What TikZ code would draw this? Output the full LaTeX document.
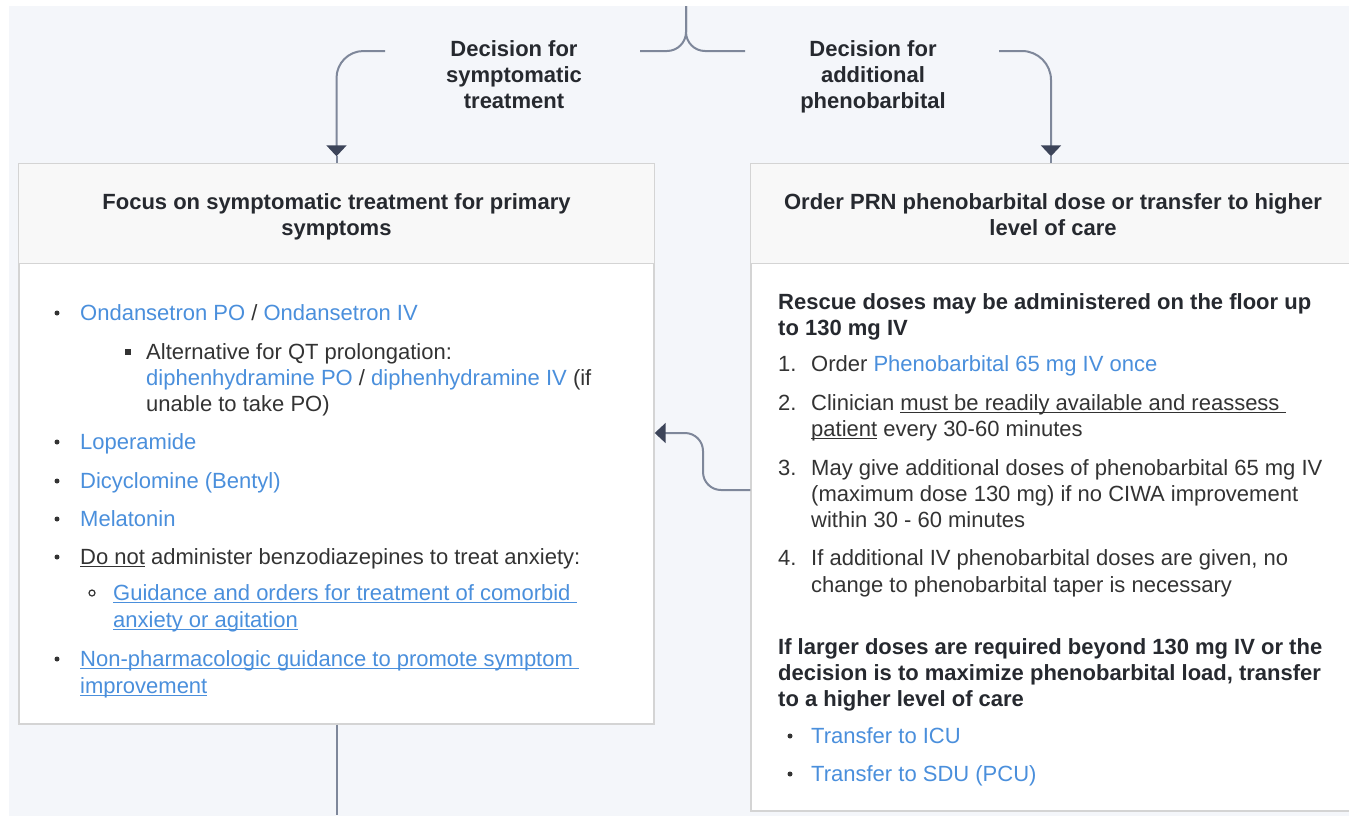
\documentclass[tikz,border=0pt]{standalone}
\usepackage{fontspec}
\setmainfont{Liberation Sans}
\usetikzlibrary{arrows.meta}
\definecolor{lnk}{HTML}{4A8FDC}
\definecolor{txtc}{HTML}{333333}
\definecolor{hdrc}{HTML}{26292F}
\definecolor{connc}{HTML}{7E879A}
\definecolor{arrc}{HTML}{3C4459}
\definecolor{bgc}{HTML}{F4F6FA}
\definecolor{brdc}{HTML}{D4D4D4}
\definecolor{hfillc}{HTML}{F8F8F8}
\newcommand{\ulx}[1]{\setbox0\hbox{#1}\rlap{\rule[-2.6pt]{\wd0}{1.1pt}}\box0\relax}
\newcommand{\lk}[1]{\textcolor{lnk}{#1}}
\tikzset{
  txt/.style={anchor=base west, inner sep=0pt, text=txtc, font=\fontsize{22}{26}\selectfont},
  btxt/.style={txt, text=hdrc, font=\fontsize{22}{26}\selectfont\bfseries},
  ctxt/.style={btxt, anchor=base},
  conn/.style={draw=connc, line width=2pt},
  tip/.style={-{Triangle[length=11pt,width=20pt,color=arrc]}},
  boxbody/.style={draw=brdc, line width=1.4pt, fill=white, inner sep=0pt},
  dotb/.style={fill=txtc}
}
\begin{document}
\begin{tikzpicture}[x=1pt,y=-1pt]
\useasboundingbox (0,0) rectangle (1349,815);
\fill[bgc] (9,6) rectangle (1360,830);

% boxes
\node[boxbody, minimum width=635pt, minimum height=560pt] (lbox) at (336.5,444) {};
\fill[hfillc] (lbox.north west) rectangle ([yshift=-100pt]lbox.north east);
\draw[brdc, line width=1.4pt] (lbox.north west) rectangle (lbox.south east);
\draw[brdc, line width=1.4pt] ([yshift=-100pt]lbox.north west) -- ([yshift=-100pt]lbox.north east);

\node[boxbody, minimum width=600pt, minimum height=647pt] (rbox) at (1051,487.5) {};
\fill[hfillc] (rbox.north west) rectangle ([yshift=-100pt]rbox.north east);
\draw[brdc, line width=1.4pt] (rbox.north west) rectangle (rbox.south east);
\draw[brdc, line width=1.4pt] ([yshift=-100pt]rbox.north west) -- ([yshift=-100pt]rbox.north east);

% connectors
\coordinate (topin) at (686,6);
\coordinate (bl) at (640,51);
\coordinate (br) at (745,51);
\coordinate (la) at (385,51);
\coordinate (ra) at (999,51);
\coordinate (lbot) at (336.5,815);
\draw[conn, rounded corners=19pt] (bl) -- (topin |- bl) -- (topin);
\draw[conn, rounded corners=19pt] (br) -- (topin |- br) -- (topin);
\draw[conn, tip, rounded corners=27pt] (la) -- (lbox.north |- la) -- ([yshift=7pt]lbox.north);
\draw[conn] ([yshift=7pt]lbox.north) -- (lbox.north);
\draw[conn, tip, rounded corners=29pt] (ra) -- (rbox.north |- ra) -- ([yshift=7pt]rbox.north);
\draw[conn] ([yshift=7pt]rbox.north) -- (rbox.north);
\draw[conn, tip, rounded corners=18pt] (rbox.west |- 0,490) -- (703,490) -- (703,433) -- (lbox.east |- 0,433);
\draw[conn] (lbox.south) -- (lbot);

% decision labels
\node[ctxt] (d1a) at (514,56) {Decision for};
\node[ctxt] (d1b) at (514,82) {symptomatic};
\node[ctxt] (d1c) at (514,108) {treatment};
\node[ctxt] (d2a) at (873,56) {Decision for};
\node[ctxt] (d2b) at (873,82) {additional};
\node[ctxt] (d2c) at (873,108) {phenobarbital};

% headers
\node[ctxt] (lh1) at (336.5,209) {Focus on symptomatic treatment for primary};
\node[ctxt] (lh2) at (336.5,235) {symptoms};
\node[ctxt] (rh1) at (1053,209) {Order PRN phenobarbital dose or transfer to higher};
\node[ctxt] (rh2) at (1053,235) {level of care};

% left body
\foreach \yy in {313,442,481,519,557,659} \fill[dotb] (57,\yy) circle (2.5pt);
\fill[dotb] (125,349) rectangle (131,355);
\draw[txtc, line width=1.2pt] (92,593) circle (3pt);
\node[txt] (l1) at (80,320) {\lk{Ondansetron PO} / \lk{Ondansetron IV}};
\node[txt] (l2) at (146,359) {Alternative for QT prolongation:};
\node[txt] (l3) at (146,385) {\lk{diphenhydramine PO} / \lk{diphenhydramine IV} (if};
\node[txt] (l4) at (146,411) {unable to take PO)};
\node[txt] (l5) at (80,449) {\lk{Loperamide}};
\node[txt] (l6) at (80,488) {\lk{Dicyclomine (Bentyl)}};
\node[txt] (l7) at (80,526) {\lk{Melatonin}};
\node[txt] (l8) at (80,564) {\ulx{Do not} administer benzodiazepines to treat anxiety:};
\node[txt, text=lnk] (l9) at (113,600) {\ulx{Guidance and orders for treatment of comorbid\ }};
\node[txt, text=lnk] (l10) at (113,627) {\ulx{anxiety or agitation}};
\node[txt, text=lnk] (l11) at (80,666) {\ulx{Non-pharmacologic guidance to promote symptom\ }};
\node[txt, text=lnk] (l12) at (80,693) {\ulx{improvement}};

% right body
\node[btxt] (r1) at (778,309) {Rescue doses may be administered on the floor up};
\node[btxt] (r2) at (778,335) {to 130 mg IV};
\node[txt] (n1) at (778,371) {1.};
\node[txt] (r3) at (811,371) {Order \lk{Phenobarbital 65 mg IV once}};
\node[txt] (n2) at (778,410) {2.};
\node[txt] (r4) at (811,410) {Clinician \ulx{must be readily available and reassess\ }};
\node[txt] (r5) at (811,436) {\ulx{patient} every 30-60 minutes};
\node[txt] (n3) at (778,475) {3.};
\node[txt] (r6) at (811,475) {May give additional doses of phenobarbital 65 mg IV};
\node[txt] (r7) at (811,501) {(maximum dose 130 mg) if no CIWA improvement};
\node[txt] (r8) at (811,527) {within 30 - 60 minutes};
\node[txt] (n4) at (778,565) {4.};
\node[txt] (r9) at (811,565) {If additional IV phenobarbital doses are given, no};
\node[txt] (r10) at (811,592) {change to phenobarbital taper is necessary};
\node[btxt] (r11) at (778,654) {If larger doses are required beyond 130 mg IV or the};
\node[btxt] (r12) at (778,680) {decision is to maximize phenobarbital load, transfer};
\node[btxt] (r13) at (778,706) {to a higher level of care};
\fill[dotb] (790,736) circle (2.5pt);
\fill[dotb] (790,774) circle (2.5pt);
\node[txt] (r14) at (811,743) {\lk{Transfer to ICU}};
\node[txt] (r15) at (811,781) {\lk{Transfer to SDU (PCU)}};
\end{tikzpicture}
\end{document}
